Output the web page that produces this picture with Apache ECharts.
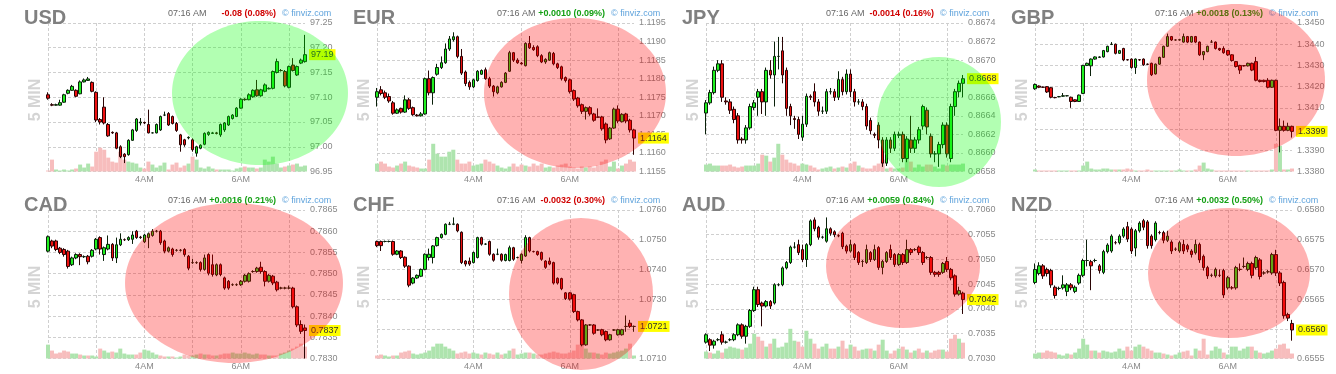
<!DOCTYPE html>
<html><head><meta charset="utf-8">
<script src="https://cdn.jsdelivr.net/npm/echarts@6/dist/echarts.min.js"></script>
<style>html,body{margin:0;padding:0;background:#fff}#c{width:1336px;height:374px}</style>
</head><body><div id="c"></div>
<script>
// ---- data: [open, close, low, high] per 5-minute candle ----
const usdOHLC = [
[97.105,97.098,97.095,97.11],[97.085,97.084,97.082,97.088],[97.084,97.085,97.083,97.087],[97.084,97.089,97.083,97.095],
[97.090,97.105,97.089,97.107],[97.108,97.114,97.106,97.116],[97.114,97.122,97.113,97.125],[97.114,97.102,97.100,97.116],
[97.107,97.131,97.106,97.134],[97.131,97.135,97.130,97.138],[97.134,97.137,97.133,97.141],[97.130,97.112,97.110,97.132],
[97.110,97.054,97.050,97.112],[97.055,97.050,97.045,97.058],[97.080,97.048,97.045,97.100],[97.045,97.022,97.020,97.048],
[97.029,97.028,97.026,97.031],[97.028,96.997,96.995,97.030],[97.000,96.980,96.977,97.003],[96.985,96.980,96.967,96.987],
[96.984,97.013,96.982,97.015],[97.013,97.034,97.012,97.036],[97.033,97.056,97.030,97.058],[97.048,97.050,97.043,97.058],
[97.049,97.048,97.046,97.051],[97.045,97.028,97.027,97.075],[97.028,97.028,97.027,97.029],[97.028,97.045,97.027,97.047],
[97.034,97.061,97.032,97.063],[97.064,97.064,97.062,97.071],[97.067,97.044,97.042,97.070],[97.061,97.047,97.045,97.063],
[97.047,97.033,97.030,97.050],[97.024,97.004,96.990,97.026],[97.014,97.004,97.000,97.016],[97.018,97.019,97.015,97.021],
[97.014,96.994,96.990,97.017],[96.987,97.000,96.980,97.002],[96.997,97.003,96.995,97.005],[97.005,97.027,97.003,97.029],
[97.025,97.029,97.022,97.031],[97.027,97.028,97.026,97.030],[97.028,97.027,97.025,97.030],[97.024,97.045,97.020,97.047],
[97.034,97.048,97.030,97.050],[97.044,97.061,97.042,97.063],[97.057,97.064,97.055,97.066],[97.061,97.078,97.060,97.080],
[97.078,97.096,97.077,97.098],[97.096,97.095,97.093,97.098],[97.095,97.105,97.094,97.108],[97.101,97.114,97.099,97.116],
[97.115,97.103,97.101,97.135],[97.103,97.115,97.101,97.117],[97.112,97.125,97.110,97.128],[97.117,97.118,97.116,97.120],
[97.118,97.152,97.116,97.154],[97.150,97.172,97.148,97.178],[97.154,97.154,97.152,97.157],[97.152,97.123,97.120,97.155],
[97.120,97.162,97.118,97.164],[97.165,97.154,97.152,97.179],[97.145,97.162,97.143,97.164],[97.169,97.175,97.167,97.178],
[97.172,97.186,97.170,97.226]];
const eurOHLC = [
[1.11750,1.11765,1.11725,1.11775],[1.11770,1.11760,1.11755,1.11780],[1.11762,1.11750,1.11745,1.11768],[1.11752,1.11740,1.11735,1.11760],
[1.11735,1.11707,1.11703,1.11740],[1.11707,1.11716,1.11705,1.11720],[1.11720,1.11710,1.11706,1.11722],[1.11710,1.11743,1.11708,1.11755],
[1.11743,1.11720,1.11716,1.11748],[1.11722,1.11703,1.11700,1.11725],[1.11702,1.11700,1.11698,1.11705],[1.11700,1.11705,1.11698,1.11710],
[1.11705,1.11800,1.11703,1.11803],[1.11800,1.11762,1.11755,1.11822],[1.11762,1.11803,1.11730,1.11806],[1.11812,1.11830,1.11808,1.11840],
[1.11830,1.11843,1.11826,1.11860],[1.11843,1.11880,1.11840,1.11895],[1.11880,1.11907,1.11875,1.11915],[1.11905,1.11913,1.11900,1.11925],
[1.11913,1.11860,1.11855,1.11916],[1.11860,1.11815,1.11810,1.11880],[1.11818,1.11787,1.11780,1.11822],[1.11790,1.11778,1.11770,1.11795],
[1.11778,1.11797,1.11775,1.11800],[1.11795,1.11820,1.11792,1.11823],[1.11812,1.11822,1.11810,1.11825],[1.11824,1.11800,1.11797,1.11830],
[1.11800,1.11780,1.11775,1.11805],[1.11780,1.11765,1.11752,1.11783],[1.11762,1.11778,1.11758,1.11781],[1.11778,1.11790,1.11776,1.11793],
[1.11790,1.11815,1.11788,1.11818],[1.11820,1.11870,1.11818,1.11875],[1.11870,1.11850,1.11845,1.11872],[1.11850,1.11843,1.11840,1.11855],
[1.11842,1.11840,1.11838,1.11845],[1.11835,1.11895,1.11833,1.11898],[1.11895,1.11883,1.11880,1.11915],[1.11884,1.11878,1.11875,1.11890],
[1.11886,1.11862,1.11858,1.11890],[1.11862,1.11845,1.11842,1.11866],[1.11845,1.11852,1.11840,1.11855],[1.11850,1.11870,1.11848,1.11873],
[1.11868,1.11840,1.11836,1.11872],[1.11840,1.11830,1.11826,1.11843],[1.11832,1.11800,1.11795,1.11835],[1.11803,1.11795,1.11790,1.11806],
[1.11797,1.11765,1.11760,1.11800],[1.11768,1.11745,1.11740,1.11771],[1.11748,1.11727,1.11722,1.11751],[1.11730,1.11712,1.11705,1.11733],
[1.11712,1.11722,1.11690,1.11725],[1.11722,1.11705,1.11700,1.11726],[1.11705,1.11688,1.11684,1.11708],[1.11697,1.11696,1.11694,1.11720],
[1.11697,1.11665,1.11660,1.11700],[1.11678,1.11635,1.11626,1.11682],[1.11638,1.11667,1.11635,1.11670],[1.11667,1.11718,1.11665,1.11722],
[1.11718,1.11686,1.11680,1.11728],[1.11684,1.11704,1.11682,1.11707],[1.11705,1.11686,1.11680,1.11708],[1.11688,1.11662,1.11655,1.11692],
[1.11662,1.11640,1.11595,1.11665]];
const jpyOHLC = [
[0.86643,0.86654,0.86620,0.86657],[0.86654,0.86665,0.86652,0.86668],[0.86665,0.86689,0.86663,0.86693],[0.86689,0.86696,0.86687,0.86700],
[0.86696,0.86660,0.86655,0.86700],[0.86656,0.86655,0.86652,0.86660],[0.86655,0.86646,0.86642,0.86658],[0.86647,0.86636,0.86632,0.86650],
[0.86640,0.86614,0.86610,0.86643],[0.86615,0.86614,0.86610,0.86617],[0.86614,0.86627,0.86610,0.86630],[0.86627,0.86650,0.86625,0.86653],
[0.86649,0.86654,0.86646,0.86657],[0.86660,0.86666,0.86640,0.86669],[0.86666,0.86655,0.86642,0.86669],[0.86655,0.86689,0.86640,0.86692],
[0.86689,0.86684,0.86680,0.86700],[0.86684,0.86704,0.86650,0.86720],[0.86704,0.86704,0.86690,0.86725],[0.86710,0.86684,0.86675,0.86725],
[0.86689,0.86648,0.86640,0.86692],[0.86650,0.86640,0.86630,0.86653],[0.86637,0.86636,0.86626,0.86640],[0.86636,0.86620,0.86615,0.86639],
[0.86617,0.86631,0.86613,0.86640],[0.86631,0.86661,0.86628,0.86664],[0.86661,0.86660,0.86657,0.86663],[0.86666,0.86655,0.86650,0.86675],
[0.86655,0.86645,0.86640,0.86658],[0.86645,0.86645,0.86642,0.86650],[0.86645,0.86666,0.86642,0.86669],[0.86666,0.86666,0.86663,0.86670],
[0.86666,0.86660,0.86656,0.86669],[0.86660,0.86679,0.86657,0.86688],[0.86679,0.86666,0.86662,0.86682],[0.86666,0.86685,0.86663,0.86690],
[0.86685,0.86666,0.86660,0.86690],[0.86666,0.86655,0.86650,0.86669],[0.86655,0.86655,0.86652,0.86658],[0.86655,0.86650,0.86646,0.86658],
[0.86650,0.86629,0.86625,0.86653],[0.86635,0.86624,0.86620,0.86638],[0.86620,0.86619,0.86616,0.86622],[0.86630,0.86614,0.86605,0.86633],
[0.86614,0.86589,0.86585,0.86617],[0.86589,0.86614,0.86586,0.86617],[0.86614,0.86605,0.86600,0.86617],[0.86605,0.86620,0.86602,0.86623],
[0.86619,0.86620,0.86616,0.86623],[0.86620,0.86594,0.86590,0.86623],[0.86594,0.86615,0.86590,0.86618],[0.86614,0.86605,0.86600,0.86640],
[0.86605,0.86614,0.86600,0.86617],[0.86614,0.86625,0.86610,0.86628],[0.86629,0.86650,0.86625,0.86652],[0.86646,0.86628,0.86620,0.86649],
[0.86618,0.86599,0.86595,0.86621],[0.86599,0.86599,0.86590,0.86602],[0.86599,0.86609,0.86585,0.86612],[0.86609,0.86630,0.86605,0.86633],
[0.86630,0.86599,0.86595,0.86633],[0.86594,0.86650,0.86590,0.86653],[0.86650,0.86666,0.86640,0.86669],[0.86666,0.86675,0.86660,0.86678],
[0.86675,0.86680,0.86660,0.86684]];
const gbpOHLC = [
[1.34190,1.34210,1.34185,1.34215],[1.34203,1.34197,1.34193,1.34206],[1.34198,1.34197,1.34194,1.34200],[1.34200,1.34175,1.34170,1.34203],
[1.34195,1.34150,1.34145,1.34198],[1.34149,1.34148,1.34145,1.34152],[1.34152,1.34153,1.34150,1.34156],[1.34155,1.34157,1.34152,1.34170],
[1.34157,1.34157,1.34154,1.34160],[1.34150,1.34130,1.34100,1.34153],[1.34138,1.34130,1.34127,1.34140],[1.34130,1.34160,1.34128,1.34163],
[1.34168,1.34300,1.34165,1.34303],[1.34300,1.34310,1.34297,1.34313],[1.34298,1.34330,1.34250,1.34333],[1.34330,1.34340,1.34327,1.34343],
[1.34338,1.34340,1.34335,1.34343],[1.34340,1.34370,1.34337,1.34373],[1.34365,1.34390,1.34362,1.34393],[1.34399,1.34400,1.34396,1.34410],
[1.34400,1.34357,1.34352,1.34403],[1.34357,1.34370,1.34354,1.34373],[1.34380,1.34326,1.34320,1.34383],[1.34327,1.34326,1.34323,1.34330],
[1.34330,1.34290,1.34285,1.34333],[1.34290,1.34330,1.34260,1.34333],[1.34327,1.34326,1.34322,1.34330],[1.34330,1.34303,1.34298,1.34333],
[1.34306,1.34305,1.34302,1.34309],[1.34310,1.34256,1.34250,1.34313],[1.34260,1.34306,1.34257,1.34309],[1.34306,1.34338,1.34303,1.34341],
[1.34338,1.34390,1.34335,1.34393],[1.34390,1.34436,1.34387,1.34450],[1.34436,1.34420,1.34415,1.34439],[1.34420,1.34420,1.34417,1.34423],
[1.34420,1.34421,1.34417,1.34424],[1.34410,1.34436,1.34407,1.34450],[1.34436,1.34410,1.34405,1.34439],[1.34410,1.34436,1.34407,1.34439],
[1.34436,1.34410,1.34405,1.34439],[1.34410,1.34350,1.34345,1.34413],[1.34350,1.34365,1.34325,1.34368],[1.34365,1.34390,1.34362,1.34393],
[1.34410,1.34410,1.34407,1.34420],[1.34410,1.34380,1.34375,1.34413],[1.34380,1.34373,1.34368,1.34383],[1.34380,1.34360,1.34355,1.34390],
[1.34370,1.34350,1.34345,1.34373],[1.34350,1.34323,1.34318,1.34353],[1.34318,1.34295,1.34290,1.34321],[1.34300,1.34278,1.34260,1.34303],
[1.34299,1.34298,1.34295,1.34302],[1.34298,1.34310,1.34295,1.34313],[1.34310,1.34278,1.34273,1.34313],[1.34318,1.34230,1.34225,1.34340],
[1.34230,1.34224,1.34220,1.34233],[1.34230,1.34224,1.34220,1.34233],[1.34230,1.34197,1.34192,1.34240],[1.34197,1.34230,1.34194,1.34233],
[1.34230,1.33994,1.33990,1.34233],[1.33994,1.34013,1.33890,1.34050],[1.34013,1.33994,1.33988,1.34040],[1.33994,1.34013,1.33990,1.34030],
[1.34013,1.33989,1.33960,1.34016]];
const cadOHLC = [
[0.78553,0.78587,0.78550,0.78590],[0.78577,0.78565,0.78560,0.78580],[0.78577,0.78557,0.78553,0.78580],[0.78560,0.78550,0.78546,0.78563],
[0.78557,0.78545,0.78540,0.78560],[0.78553,0.78517,0.78512,0.78556],[0.78521,0.78537,0.78518,0.78540],[0.78537,0.78545,0.78534,0.78548],
[0.78545,0.78540,0.78520,0.78548],[0.78540,0.78540,0.78537,0.78543],[0.78541,0.78528,0.78522,0.78544],[0.78541,0.78555,0.78538,0.78558],
[0.78558,0.78581,0.78555,0.78584],[0.78585,0.78558,0.78545,0.78588],[0.78545,0.78561,0.78530,0.78564],[0.78558,0.78569,0.78555,0.78590],
[0.78569,0.78537,0.78530,0.78572],[0.78537,0.78568,0.78525,0.78585],[0.78568,0.78581,0.78565,0.78595],[0.78580,0.78580,0.78577,0.78583],
[0.78580,0.78585,0.78577,0.78588],[0.78581,0.78591,0.78570,0.78600],[0.78600,0.78585,0.78582,0.78603],[0.78586,0.78585,0.78582,0.78589],
[0.78575,0.78591,0.78572,0.78594],[0.78585,0.78594,0.78560,0.78597],[0.78590,0.78600,0.78587,0.78605],[0.78600,0.78600,0.78597,0.78603],
[0.78600,0.78573,0.78568,0.78603],[0.78577,0.78553,0.78548,0.78580],[0.78553,0.78561,0.78550,0.78564],[0.78558,0.78545,0.78540,0.78561],
[0.78555,0.78555,0.78552,0.78558],[0.78555,0.78555,0.78552,0.78558],[0.78557,0.78545,0.78540,0.78560],[0.78541,0.78513,0.78508,0.78544],
[0.78526,0.78526,0.78523,0.78535],[0.78526,0.78526,0.78523,0.78529],[0.78526,0.78510,0.78505,0.78529],[0.78510,0.78537,0.78507,0.78545],
[0.78545,0.78501,0.78496,0.78548],[0.78521,0.78498,0.78493,0.78545],[0.78497,0.78521,0.78494,0.78524],[0.78521,0.78498,0.78494,0.78524],
[0.78490,0.78466,0.78462,0.78493],[0.78482,0.78466,0.78462,0.78485],[0.78474,0.78474,0.78471,0.78477],[0.78474,0.78474,0.78471,0.78477],
[0.78474,0.78482,0.78471,0.78485],[0.78482,0.78496,0.78479,0.78499],[0.78482,0.78500,0.78479,0.78503],[0.78505,0.78505,0.78502,0.78508],
[0.78505,0.78513,0.78502,0.78516],[0.78515,0.78505,0.78500,0.78528],[0.78505,0.78482,0.78470,0.78508],[0.78482,0.78496,0.78479,0.78499],
[0.78494,0.78478,0.78473,0.78497],[0.78480,0.78462,0.78458,0.78483],[0.78466,0.78466,0.78463,0.78469],[0.78466,0.78466,0.78463,0.78469],
[0.78466,0.78466,0.78463,0.78472],[0.78466,0.78422,0.78418,0.78469],[0.78422,0.78379,0.78374,0.78425],[0.78380,0.78364,0.78358,0.78390],
[0.78372,0.78366,0.78300,0.78380]];
const chfOHLC = [
[1.07494,1.07480,1.07475,1.07497],[1.07494,1.07480,1.07462,1.07497],[1.07494,1.07494,1.07491,1.07497],[1.07494,1.07494,1.07491,1.07497],
[1.07494,1.07451,1.07446,1.07497],[1.07451,1.07462,1.07448,1.07465],[1.07462,1.07440,1.07435,1.07465],[1.07441,1.07411,1.07405,1.07444],
[1.07411,1.07347,1.07340,1.07414],[1.07354,1.07371,1.07350,1.07374],[1.07371,1.07380,1.07368,1.07383],[1.07377,1.07400,1.07374,1.07403],
[1.07400,1.07451,1.07397,1.07454],[1.07440,1.07451,1.07430,1.07470],[1.07440,1.07479,1.07420,1.07482],[1.07480,1.07507,1.07477,1.07510],
[1.07507,1.07518,1.07504,1.07521],[1.07518,1.07552,1.07515,1.07555],[1.07552,1.07552,1.07549,1.07560],[1.07552,1.07553,1.07549,1.07575],
[1.07552,1.07530,1.07525,1.07555],[1.07525,1.07423,1.07418,1.07528],[1.07428,1.07418,1.07410,1.07431],[1.07428,1.07418,1.07412,1.07440],
[1.07423,1.07457,1.07420,1.07460],[1.07440,1.07507,1.07437,1.07510],[1.07507,1.07485,1.07480,1.07510],[1.07485,1.07485,1.07482,1.07488],
[1.07494,1.07451,1.07446,1.07497],[1.07451,1.07431,1.07426,1.07454],[1.07451,1.07451,1.07448,1.07470],[1.07451,1.07431,1.07426,1.07454],
[1.07430,1.07450,1.07427,1.07453],[1.07430,1.07473,1.07427,1.07480],[1.07473,1.07434,1.07429,1.07476],[1.07440,1.07440,1.07437,1.07443],
[1.07430,1.07451,1.07420,1.07454],[1.07445,1.07507,1.07442,1.07515],[1.07507,1.07462,1.07457,1.07510],[1.07460,1.07460,1.07457,1.07463],
[1.07460,1.07450,1.07446,1.07463],[1.07457,1.07434,1.07429,1.07460],[1.07428,1.07407,1.07402,1.07431],[1.07428,1.07418,1.07414,1.07440],
[1.07423,1.07354,1.07349,1.07426],[1.07370,1.07354,1.07349,1.07373],[1.07369,1.07335,1.07330,1.07372],[1.07321,1.07302,1.07297,1.07324],
[1.07321,1.07300,1.07295,1.07324],[1.07315,1.07258,1.07253,1.07318],[1.07258,1.07230,1.07225,1.07261],[1.07230,1.07146,1.07141,1.07233],
[1.07146,1.07213,1.07143,1.07216],[1.07213,1.07213,1.07210,1.07216],[1.07213,1.07185,1.07180,1.07216],[1.07196,1.07196,1.07193,1.07199],
[1.07197,1.07180,1.07175,1.07200],[1.07191,1.07163,1.07158,1.07194],[1.07163,1.07180,1.07160,1.07183],[1.07196,1.07196,1.07193,1.07199],
[1.07180,1.07197,1.07177,1.07200],[1.07180,1.07197,1.07177,1.07200],[1.07208,1.07208,1.07190,1.07245],[1.07219,1.07208,1.07203,1.07230],
[1.07208,1.07208,1.07190,1.07211]];
const audOHLC = [
[0.70333,0.70348,0.70330,0.70351],[0.70338,0.70327,0.70315,0.70341],[0.70327,0.70335,0.70320,0.70338],[0.70338,0.70338,0.70335,0.70341],
[0.70348,0.70333,0.70328,0.70355],[0.70333,0.70333,0.70330,0.70336],[0.70338,0.70338,0.70335,0.70341],[0.70338,0.70348,0.70335,0.70351],
[0.70348,0.70368,0.70345,0.70371],[0.70368,0.70345,0.70340,0.70371],[0.70345,0.70365,0.70330,0.70368],[0.70365,0.70397,0.70362,0.70400],
[0.70397,0.70439,0.70394,0.70445],[0.70439,0.70409,0.70404,0.70445],[0.70412,0.70406,0.70365,0.70415],[0.70406,0.70415,0.70403,0.70418],
[0.70415,0.70406,0.70400,0.70418],[0.70412,0.70449,0.70409,0.70452],[0.70449,0.70449,0.70446,0.70452],[0.70449,0.70483,0.70446,0.70486],
[0.70483,0.70494,0.70480,0.70497],[0.70494,0.70525,0.70491,0.70528],[0.70525,0.70525,0.70522,0.70535],[0.70530,0.70514,0.70509,0.70540],
[0.70520,0.70500,0.70495,0.70530],[0.70500,0.70530,0.70485,0.70533],[0.70530,0.70578,0.70527,0.70581],[0.70580,0.70562,0.70557,0.70585],
[0.70565,0.70545,0.70540,0.70568],[0.70545,0.70545,0.70542,0.70548],[0.70537,0.70562,0.70534,0.70585],[0.70562,0.70553,0.70548,0.70565],
[0.70556,0.70550,0.70545,0.70559],[0.70548,0.70548,0.70545,0.70551],[0.70553,0.70526,0.70521,0.70556],[0.70527,0.70517,0.70512,0.70530],
[0.70517,0.70530,0.70514,0.70540],[0.70530,0.70504,0.70499,0.70533],[0.70514,0.70494,0.70489,0.70517],[0.70496,0.70496,0.70485,0.70499],
[0.70494,0.70520,0.70491,0.70530],[0.70514,0.70500,0.70495,0.70517],[0.70500,0.70520,0.70497,0.70530],[0.70524,0.70484,0.70479,0.70527],
[0.70484,0.70496,0.70470,0.70499],[0.70496,0.70514,0.70493,0.70517],[0.70520,0.70504,0.70499,0.70530],[0.70510,0.70490,0.70485,0.70513],
[0.70490,0.70510,0.70487,0.70513],[0.70510,0.70494,0.70489,0.70513],[0.70494,0.70520,0.70491,0.70540],[0.70520,0.70514,0.70509,0.70523],
[0.70520,0.70520,0.70517,0.70523],[0.70525,0.70514,0.70509,0.70528],[0.70514,0.70494,0.70489,0.70517],[0.70504,0.70504,0.70501,0.70507],
[0.70504,0.70474,0.70469,0.70507],[0.70474,0.70470,0.70465,0.70477],[0.70474,0.70470,0.70465,0.70477],[0.70474,0.70492,0.70471,0.70495],
[0.70496,0.70480,0.70475,0.70505],[0.70480,0.70463,0.70458,0.70483],[0.70467,0.70430,0.70425,0.70470],[0.70430,0.70437,0.70427,0.70445],
[0.70432,0.70419,0.70390,0.70435]];
const nzdOHLC = [
[0.65678,0.65700,0.65675,0.65710],[0.65693,0.65706,0.65690,0.65712],[0.65706,0.65689,0.65684,0.65709],[0.65700,0.65693,0.65688,0.65703],
[0.65698,0.65674,0.65669,0.65701],[0.65670,0.65656,0.65651,0.65673],[0.65668,0.65668,0.65665,0.65671],[0.65669,0.65674,0.65666,0.65690],
[0.65663,0.65674,0.65655,0.65677],[0.65674,0.65669,0.65665,0.65677],[0.65663,0.65670,0.65660,0.65673],[0.65677,0.65690,0.65674,0.65693],
[0.65690,0.65715,0.65687,0.65718],[0.65715,0.65715,0.65705,0.65750],[0.65713,0.65706,0.65665,0.65716],[0.65715,0.65715,0.65712,0.65718],
[0.65706,0.65698,0.65693,0.65709],[0.65695,0.65730,0.65692,0.65733],[0.65730,0.65741,0.65727,0.65744],[0.65731,0.65756,0.65728,0.65759],
[0.65745,0.65745,0.65742,0.65748],[0.65745,0.65756,0.65742,0.65759],[0.65756,0.65768,0.65753,0.65771],[0.65772,0.65751,0.65746,0.65780],
[0.65768,0.65731,0.65726,0.65771],[0.65736,0.65765,0.65722,0.65768],[0.65765,0.65778,0.65762,0.65781],[0.65782,0.65771,0.65766,0.65785],
[0.65780,0.65740,0.65735,0.65783],[0.65756,0.65740,0.65735,0.65759],[0.65750,0.65778,0.65747,0.65781],[0.65762,0.65762,0.65759,0.65765],
[0.65762,0.65749,0.65744,0.65765],[0.65749,0.65756,0.65746,0.65765],[0.65746,0.65731,0.65726,0.65749],[0.65734,0.65734,0.65731,0.65737],
[0.65731,0.65745,0.65728,0.65748],[0.65742,0.65731,0.65726,0.65750],[0.65740,0.65734,0.65729,0.65743],[0.65731,0.65725,0.65720,0.65734],
[0.65728,0.65742,0.65725,0.65750],[0.65742,0.65716,0.65711,0.65745],[0.65722,0.65703,0.65698,0.65725],[0.65703,0.65689,0.65684,0.65706],
[0.65690,0.65690,0.65687,0.65693],[0.65689,0.65700,0.65686,0.65703],[0.65690,0.65690,0.65687,0.65700],[0.65698,0.65657,0.65652,0.65701],
[0.65669,0.65686,0.65666,0.65689],[0.65669,0.65669,0.65666,0.65672],[0.65669,0.65703,0.65666,0.65706],[0.65700,0.65700,0.65697,0.65710],
[0.65705,0.65705,0.65702,0.65720],[0.65700,0.65710,0.65697,0.65713],[0.65710,0.65690,0.65685,0.65713],[0.65703,0.65720,0.65700,0.65723],
[0.65716,0.65688,0.65683,0.65719],[0.65694,0.65694,0.65691,0.65697],[0.65696,0.65696,0.65693,0.65699],[0.65694,0.65725,0.65691,0.65728],
[0.65725,0.65694,0.65689,0.65733],[0.65694,0.65677,0.65672,0.65697],[0.65678,0.65622,0.65617,0.65681],[0.65624,0.65618,0.65613,0.65627],
[0.65609,0.65598,0.65580,0.65615]];

// volume (relative units)
const usdVol = [1,12,2,1,2,1,2,3,7,4,8,5,20,24,22,14,10,9,20,12,10,9,8,4,3,10,7,4,6,9,2,7,9,4,6,8,15,12,4,3,5,3,2,2,2,2,1,3,4,5,4,4,3,4,12,10,15,8,4,5,6,7,8,5,6];
const eurVol = [8,10,8,5,4,6,8,10,6,5,4,3,3,12,28,18,15,15,20,22,12,8,8,10,6,7,8,12,10,8,6,4,3,5,8,5,7,6,5,8,6,8,4,5,4,6,7,8,5,4,3,5,4,5,4,6,10,12,5,10,3,6,8,12,10];
const jpyVol = [7,8,6,6,6,6,7,5,4,5,6,6,6,8,17,16,10,14,28,17,12,9,8,6,8,7,6,4,2,3,4,5,3,4,5,4,8,10,6,4,3,3,6,8,12,3,4,3,3,4,13,10,4,7,5,7,7,5,3,7,6,7,7,7,8];
const gbpVol = [2,1,1,1,1,1,1,1,1,1,1,1,6,10,3,2,2,3,3,2,2,2,2,3,2,1,1,1,2,1,1,1,1,1,1,1,2,1,1,1,2,6,9,3,2,1,1,1,1,1,1,1,1,1,1,1,1,1,1,2,28,26,2,2,3];
const cadVol = [14,8,5,6,8,7,5,5,4,3,3,3,2,10,8,6,7,6,10,5,4,4,4,6,9,8,6,4,3,2,2,2,1,2,4,3,3,4,5,4,4,3,3,4,5,5,6,5,5,6,5,4,5,4,4,3,3,3,5,6,8,10,12,15,12];
const chfVol = [3,4,3,2,3,3,6,7,8,5,4,5,6,8,12,15,15,12,10,8,5,6,7,5,6,5,4,6,5,4,6,4,5,8,10,4,5,6,6,5,4,4,5,6,7,6,5,5,6,8,14,30,10,6,6,5,4,6,5,6,7,8,10,15,3];
const audVol = [7,6,5,8,6,10,12,11,10,9,11,15,25,22,18,12,15,20,11,12,16,30,18,17,12,28,20,15,10,12,15,10,10,12,18,10,14,12,8,9,10,10,8,14,19,8,5,8,10,12,9,6,8,10,6,8,6,8,9,9,7,20,24,20,16];
const nzdVol = [5,6,6,8,7,6,4,3,5,4,6,10,20,14,8,8,6,8,7,6,7,10,8,12,8,12,14,12,10,8,6,6,5,4,3,4,6,7,8,3,10,8,20,4,8,12,10,6,4,12,12,8,10,12,12,8,6,5,6,8,10,14,15,10,5];

const currencies = ['USD','EUR','JPY','GBP','CAD','CHF','AUD','NZD'];
const changes = ['-0.08 (0.08%)','+0.0010 (0.09%)','-0.0014 (0.16%)','+0.0018 (0.13%)','+0.0016 (0.21%)','-0.0032 (0.30%)','+0.0059 (0.84%)','+0.0032 (0.50%)'];
const yMin = [96.95,1.1155,0.8658,1.3380,0.7830,1.0710,0.7030,0.6555];
const yMax = [97.25,1.1195,0.8674,1.3450,0.7865,1.0760,0.7060,0.6580];
const yStep = [0.05,0.0005,0.0002,0.0010,0.0005,0.0010,0.0005,0.0005];
const decimals = [2,4,4,4,4,4,4,4];
const timeLabel = '07:16 AM';
const sourceLabel = '\u00A9 finviz.com';
const periodLabel = '5 MIN';
const ohlcs = [usdOHLC,eurOHLC,jpyOHLC,gbpOHLC,cadOHLC,chfOHLC,audOHLC,nzdOHLC];
const vols = [usdVol,eurVol,jpyVol,gbpVol,cadVol,chfVol,audVol,nzdVol];

// annotation ellipses (pixel layout)
const marks = [
  {cx:260,cy:93,rx:88,ry:72,up:true},
  {cx:575,cy:93,rx:91,ry:75,up:false},
  {cx:939,cy:122,rx:62,ry:65,up:true},
  {cx:1236,cy:80,rx:89,ry:76,up:false},
  {cx:234,cy:283,rx:109,ry:80,up:false},
  {cx:581,cy:294,rx:72,ry:76,up:false},
  {cx:903,cy:266,rx:77,ry:62,up:false},
  {cx:1229,cy:273,rx:81,ry:65,up:false}
];

const times = [];
for (let k = 0; k < 65; k++) { const m = 120 + 5*k; times.push(Math.floor(m/60) + ':' + String(m%60).padStart(2,'0')); }

const FONT = '"Liberation Sans", Arial, sans-serif';
const grids=[], xAxes=[], yAxes=[], series=[], elements=[], origins=[];
currencies.forEach((name,i)=>{
  const col=i%4, row=Math.floor(i/4);
  const ox=col*329, oy=row*187;
  origins.push([ox,oy]);
  grids.push({left:ox+48, top:oy+23, width:257, height:148.5});
  xAxes.push({type:'category', gridIndex:i, data:times, boundaryGap:false,
    axisLine:{show:false}, axisTick:{show:false},
    axisLabel:{interval:(idx)=>idx===24||idx===48, formatter:(v)=>v.split(':')[0]+'AM', color:'#888', fontSize:9, margin:4, fontFamily:FONT},
    splitLine:{show:true, interval:(idx)=>idx%12===0, lineStyle:{color:'#cfcfcf', type:[3,2]}}});
  const d = decimals[i];
  yAxes.push({type:'value', gridIndex:i, position:'right', min:yMin[i], max:yMax[i], interval:yStep[i],
    axisLine:{show:false}, axisTick:{show:false},
    axisLabel:{color:'#888', fontSize:9, margin:5, fontFamily:FONT, formatter:(v)=>v.toFixed(d)},
    splitLine:{show:true, lineStyle:{color:'#cfcfcf', type:[3,2]}}});
  yAxes.push({type:'value', gridIndex:i, min:0, max:150, show:false, splitLine:{show:false}});
  const ohlc = ohlcs[i];
  series.push({type:'bar', xAxisIndex:i, yAxisIndex:2*i+1, barWidth:4, silent:true, z:1,
    data: vols[i].map((v,k)=>({value:v, itemStyle:{color: (ohlc[k] && ohlc[k][1] >= ohlc[k][0]) ? '#aee4ae' : '#f7bdbd'}}))});
  series.push({type:'candlestick', xAxisIndex:i, yAxisIndex:2*i, data: ohlc, barWidth:3, clip:false, z:3,
    itemStyle:{color:'#1ff01f', color0:'#ee1010', borderColor:'#0a200a', borderColor0:'#2a0404', borderWidth:1}});
  elements.push({type:'text', x:ox+24, y:oy+18, z:50, style:{text:name, font:'bold 20px '+FONT, fill:'#808080', align:'left', verticalAlign:'middle'}});
  elements.push({type:'text', x:ox+36, y:oy+100, rotation:Math.PI/2, z:50, style:{text:periodLabel, font:'bold 16px '+FONT, fill:'#d4d4d4', align:'center', verticalAlign:'middle'}});
  elements.push({type:'text', x:ox+168, y:oy+14, z:50, style:{text:timeLabel, font:'9px '+FONT, fill:'#666', align:'left', verticalAlign:'middle'}});
  elements.push({type:'text', x:ox+276, y:oy+14, z:50, style:{text:changes[i], font:'bold 9px '+FONT, fill: changes[i][0]==='-' ? '#d00000' : '#14a014', align:'right', verticalAlign:'middle'}});
  elements.push({type:'text', x:ox+282, y:oy+14, z:50, style:{text:sourceLabel, font:'9px '+FONT, fill:'#5fa3dc', align:'left', verticalAlign:'middle'}});
});

const chart = echarts.init(document.getElementById('c'), null, {renderer:'canvas'});
chart.setOption({animation:false, backgroundColor:'#fff', grid:grids, xAxis:xAxes, yAxis:yAxes, series:series});

// last-price tags placed through the price axis scale
currencies.forEach((name,i)=>{
  const ohlc = ohlcs[i];
  const last = ohlc[ohlc.length-1][1];
  const y = chart.convertToPixel({yAxisIndex:2*i}, last);
  const [ox] = origins[i];
  elements.push({type:'text', x:ox+309, y:y, z:60, style:{text:last.toFixed(decimals[i]), font:'9px '+FONT, fill:'#333', backgroundColor:'#ffff00', padding:[1,2,1,2], align:'left', verticalAlign:'middle'}});
});
marks.forEach(m=>{
  elements.push({type:'ellipse', z:100, silent:true, shape:{cx:m.cx, cy:m.cy, rx:m.rx, ry:m.ry},
    style:{fill: m.up ? 'rgba(0,255,0,0.3)' : 'rgba(255,0,0,0.3)'}});
});
chart.setOption({graphic:{elements:elements}});
</script></body></html>
